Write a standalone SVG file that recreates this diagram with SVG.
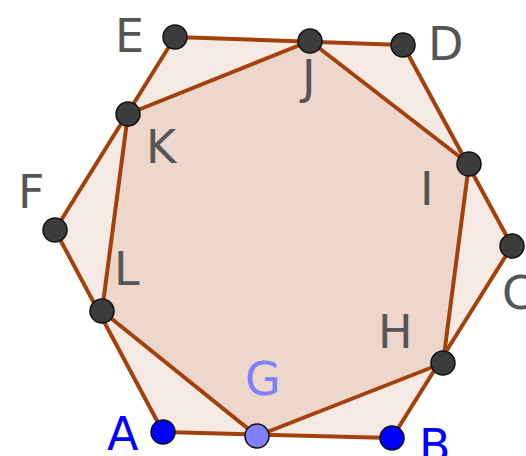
<svg xmlns="http://www.w3.org/2000/svg" width="526" height="456" viewBox="0 0 526 456">
<style>
.lbl{font-family:"DejaVu Sans",sans-serif;font-size:46px;fill:#555}
.pt{fill:#3c3c3c;stroke:#111;stroke-width:1.5}
.edge{stroke:#a3410d;stroke-width:4;stroke-linecap:round;fill:none}
</style>
<rect width="526" height="456" fill="#fff"/>
<g id="regions">
<polygon points="163,432 392,438 512,246 403,45 175,37 55,230" fill="#f5e9e4"/>
<polygon points="257,436 443,363 469,164 310,41 128,114 102,311" fill="#edd6cc"/>
</g>
<g id="connectors">
<line class="edge" x1="163" y1="432" x2="392" y2="438"/>
<line class="edge" x1="392" y1="438" x2="512" y2="246"/>
<line class="edge" x1="512" y1="246" x2="403" y2="45"/>
<line class="edge" x1="403" y1="45" x2="175" y2="37"/>
<line class="edge" x1="175" y1="37" x2="55" y2="230"/>
<line class="edge" x1="55" y1="230" x2="163" y2="432"/>
<line class="edge" x1="257" y1="436" x2="443" y2="363"/>
<line class="edge" x1="443" y1="363" x2="469" y2="164"/>
<line class="edge" x1="469" y1="164" x2="310" y2="41"/>
<line class="edge" x1="310" y1="41" x2="128" y2="114"/>
<line class="edge" x1="128" y1="114" x2="102" y2="311"/>
<line class="edge" x1="102" y1="311" x2="257" y2="436"/>
</g>
<g id="A"><circle cx="163" cy="432" r="12" fill="#0000ff" stroke="#111" stroke-width="1.5"/><text class="lbl" x="107" y="450" style="fill:#0000ff">A</text></g>
<g id="B"><circle cx="392" cy="438" r="12" fill="#0000ff" stroke="#111" stroke-width="1.5"/><text class="lbl" x="419" y="462" style="fill:#0000ff">B</text></g>
<g id="C"><circle class="pt" cx="512" cy="246" r="12"/><text class="lbl" x="502" y="309">C</text></g>
<g id="D"><circle class="pt" cx="403" cy="45" r="12"/><text class="lbl" x="428" y="60">D</text></g>
<g id="E"><circle class="pt" cx="175" cy="37" r="12"/><text class="lbl" x="115" y="52">E</text></g>
<g id="F"><circle class="pt" cx="55" cy="230" r="12"/><text class="lbl" x="18" y="208">F</text></g>
<g id="G"><circle cx="257" cy="436" r="12" fill="#8080ff" stroke="#111" stroke-width="1.5"/><text class="lbl" x="245" y="395" style="fill:#8080ff">G</text></g>
<g id="H"><circle class="pt" cx="443" cy="363" r="12"/><text class="lbl" x="378" y="348">H</text></g>
<g id="I"><circle class="pt" cx="469" cy="164" r="12"/><text class="lbl" x="420" y="205">I</text></g>
<g id="J"><circle class="pt" cx="310" cy="41" r="12"/><text class="lbl" x="302" y="93">J</text></g>
<g id="K"><circle class="pt" cx="128" cy="114" r="12"/><text class="lbl" x="146" y="163">K</text></g>
<g id="L"><circle class="pt" cx="102" cy="311" r="12"/><text class="lbl" x="114" y="285">L</text></g>
</svg>
